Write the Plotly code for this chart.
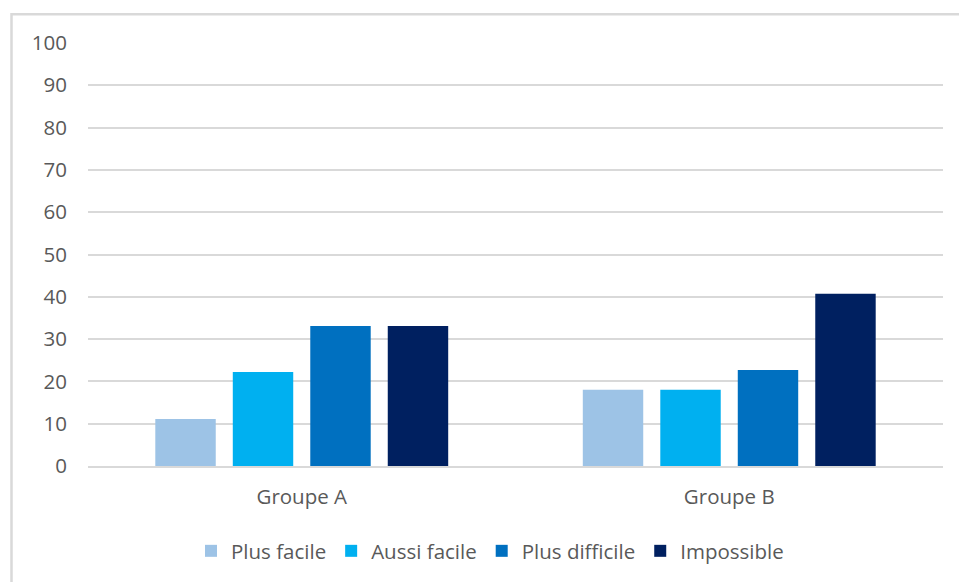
import plotly.graph_objects as go

# Survey results per group (percent of respondents)
groups = ["Groupe A", "Groupe B"]
series_names = ["Plus facile", "Aussi facile", "Plus difficile", "Impossible"]
plus_facile = [11.1, 18.0]
aussi_facile = [22.2, 18.0]
plus_difficile = [33.1, 22.7]
impossible = [33.1, 40.7]
y_ticks = [0, 10, 20, 30, 40, 50, 60, 70, 80, 90, 100]

series_values = [plus_facile, aussi_facile, plus_difficile, impossible]
colors = ["#9DC3E6", "#00B0F0", "#0070C0", "#002060"]

FONT = "Open Sans"
FONT_SIZE = 20.5
TEXT_COLOR = "#595959"
GRID_COLOR = "#D9D9D9"

fig = go.Figure()
for name, vals, col in zip(series_names, series_values, colors):
    fig.add_trace(go.Bar(x=groups, y=vals, name=name, marker_color=col,
                         marker_line_width=0))

W, H = 959, 582
ML, MR, MT, MB = 88, 16, 43, 115
PW, PH = W - ML - MR, H - MT - MB


def px_to_paper_x(px):
    return (px - ML) / PW


def px_to_paper_y(py):
    return (H - MB - py) / PH


fig.update_layout(
    width=W, height=H,
    margin=dict(l=ML, r=MR, t=MT, b=MB, pad=0),
    paper_bgcolor="white", plot_bgcolor="white",
    barmode="group", bargap=0.275, bargroupgap=0.22,
    font=dict(family=FONT, size=FONT_SIZE, color=TEXT_COLOR),
    legend=dict(orientation="h", x=px_to_paper_x(490), xanchor="center",
                y=px_to_paper_y(551), yanchor="middle",
                font=dict(family=FONT, size=FONT_SIZE, color=TEXT_COLOR),
                itemwidth=30, traceorder="normal"),
    shapes=[dict(type="rect", xref="paper", yref="paper",
                 x0=px_to_paper_x(11.5), x1=px_to_paper_x(1000),
                 y0=px_to_paper_y(620), y1=px_to_paper_y(14.3),
                 line=dict(color=GRID_COLOR, width=2.5),
                 fillcolor="rgba(0,0,0,0)", layer="below")],
)

fig.update_yaxes(range=[0, 100], tickvals=y_ticks, showgrid=True,
                 gridcolor=GRID_COLOR, gridwidth=2, zeroline=False,
                 showline=False, ticks="", ticklabelstandoff=20,
                 tickfont=dict(family=FONT, size=FONT_SIZE, color=TEXT_COLOR))
fig.update_xaxes(showline=True, linecolor=GRID_COLOR, linewidth=2,
                 ticks="", ticklabelstandoff=11,
                 tickfont=dict(family=FONT, size=FONT_SIZE, color=TEXT_COLOR))

fig.write_html("out.html")
